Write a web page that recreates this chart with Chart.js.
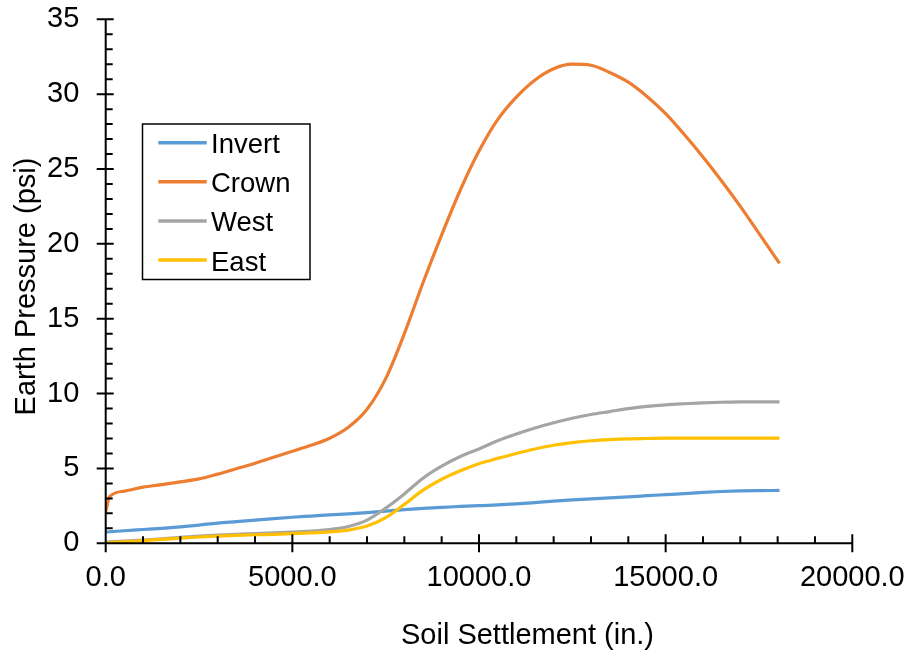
<!DOCTYPE html>
<html><head><meta charset="utf-8">
<script src="https://cdn.jsdelivr.net/npm/chart.js@4.4.0/dist/chart.umd.min.js"></script>
<style>html,body{margin:0;padding:0;background:#fff;}canvas{display:block;}</style>
</head><body>
<canvas id="c" width="909" height="655"></canvas>
<script>
// ---- data ----
const seriesNames = ['Invert', 'Crown', 'West', 'East'];
const settlement = [0, 100, 500, 1000, 1500, 2000, 2500, 3000, 3500, 4000, 4500, 5000, 5500, 6000, 6500, 7000, 7500, 8000, 8500, 9000, 9500, 10000, 10500, 11000, 11500, 12000, 12500, 13000, 13500, 14000, 14500, 15000, 15500, 16000, 16500, 17000, 17500, 18050];
const invert = [0.75, 0.77, 0.84, 0.92, 1.0, 1.1, 1.22, 1.35, 1.45, 1.55, 1.65, 1.74, 1.82, 1.9, 1.97, 2.05, 2.15, 2.25, 2.33, 2.4, 2.46, 2.52, 2.56, 2.63, 2.72, 2.82, 2.9, 2.97, 3.03, 3.1, 3.18, 3.25, 3.32, 3.4, 3.46, 3.5, 3.52, 3.53];
const crown = [2.1, 3.1, 3.48, 3.75, 3.92, 4.1, 4.3, 4.62, 4.98, 5.35, 5.75, 6.15, 6.55, 7.02, 7.75, 8.95, 11.0, 14.0, 17.4, 20.6, 23.6, 26.2, 28.3, 29.8, 30.95, 31.7, 32.0, 31.93, 31.45, 30.8, 29.85, 28.7, 27.3, 25.8, 24.2, 22.5, 20.7, 18.7];
const west = [0.05, 0.1, 0.15, 0.22, 0.3, 0.4, 0.48, 0.55, 0.6, 0.65, 0.7, 0.75, 0.82, 0.92, 1.12, 1.55, 2.35, 3.3, 4.35, 5.15, 5.8, 6.3, 6.85, 7.3, 7.7, 8.05, 8.35, 8.6, 8.8, 9.0, 9.15, 9.25, 9.32, 9.38, 9.42, 9.45, 9.45, 9.44];
const east = [0.0, 0.05, 0.1, 0.18, 0.26, 0.35, 0.42, 0.48, 0.53, 0.57, 0.6, 0.64, 0.7, 0.76, 0.88, 1.15, 1.72, 2.6, 3.55, 4.28, 4.85, 5.32, 5.67, 6.0, 6.3, 6.55, 6.72, 6.85, 6.93, 6.98, 7.0, 7.02, 7.02, 7.02, 7.02, 7.02, 7.02, 7.02];
const xMajorTicks = [0, 5000, 10000, 15000, 20000];
const xMinorTicks = [1000, 2000, 3000, 4000, 6000, 7000, 8000, 9000, 11000, 12000, 13000, 14000, 16000, 17000, 18000, 19000];
const yMajorTicks = [0, 5, 10, 15, 20, 25, 30, 35];
const yMinorTicks = [1,2,3,4,6,7,8,9,11,12,13,14,16,17,18,19,21,22,23,24,26,27,28,29,31,32,33,34];
const xTitle = 'Soil Settlement (in.)';
const yTitle = 'Earth Pressure (psi)';

const colors = ['#5B9BD5', '#ED7D31', '#A5A5A5', '#FFC000'];
const FONT = '"Liberation Sans", Arial, sans-serif';

const toPts = ys => settlement.map((s, i) => ({x: s, y: ys[i]}));
const values = [invert, crown, west, east];
const datasets = seriesNames.map((n, i) => ({
  label: n,
  data: toPts(values[i]),
  borderColor: colors[i],
  backgroundColor: colors[i],
  borderWidth: 3.2,
  pointRadius: 0,
  fill: false,
  cubicInterpolationMode: 'monotone',
  order: 3 - i
}));

const excelAxes = {
  id: 'excelAxes',
  afterDatasetsDraw(chart) {
    const {ctx, scales: {x, y}} = chart;
    const x0 = x.getPixelForValue(xMajorTicks[0]);
    const x1 = x.getPixelForValue(xMajorTicks[xMajorTicks.length - 1]);
    const y0 = y.getPixelForValue(yMajorTicks[0]);
    const y1 = y.getPixelForValue(yMajorTicks[yMajorTicks.length - 1]);
    ctx.save();
    ctx.strokeStyle = '#000';
    ctx.lineWidth = 2;
    ctx.lineCap = 'butt';
    ctx.beginPath();
    ctx.moveTo(x0, y1); ctx.lineTo(x0, y0);
    ctx.moveTo(x0 - 1, y0); ctx.lineTo(x1, y0);
    yMajorTicks.forEach(v => { const p = y.getPixelForValue(v); ctx.moveTo(x0 - 9, p); ctx.lineTo(x0 + 8, p); });
    yMinorTicks.forEach(v => { const p = y.getPixelForValue(v); ctx.moveTo(x0, p); ctx.lineTo(x0 + 7, p); });
    xMajorTicks.forEach(v => { const p = x.getPixelForValue(v); ctx.moveTo(p, y0 - 9); ctx.lineTo(p, y0 + 9); });
    xMinorTicks.forEach(v => { const p = x.getPixelForValue(v); ctx.moveTo(p, y0); ctx.lineTo(p, y0 - 7); });
    ctx.stroke();
    ctx.restore();
  },
  afterDraw(chart) {
    const {ctx} = chart;
    ctx.save();
    ctx.fillStyle = '#000';
    ctx.font = '29px ' + FONT;
    ctx.textAlign = 'center';
    ctx.textBaseline = 'alphabetic';
    ctx.fillText(xTitle, 527.5, 643.5);
    ctx.translate(35, 286.5);
    ctx.rotate(-Math.PI / 2);
    ctx.fillText(yTitle, 0, 0);
    ctx.restore();
    // legend
    ctx.save();
    const bx = 142.5, by = 124, bw = 167.5, bh = 155.5;
    ctx.fillStyle = '#fff';
    ctx.fillRect(bx, by, bw, bh);
    ctx.strokeStyle = '#000';
    ctx.lineWidth = 1.5;
    ctx.strokeRect(bx, by, bw, bh);
    ctx.font = '27.5px ' + FONT;
    ctx.textAlign = 'left';
    ctx.textBaseline = 'alphabetic';
    chart.data.datasets.forEach((ds, i) => {
      const ry = 142.7 + i * 39.1;
      ctx.strokeStyle = ds.borderColor;
      ctx.lineWidth = 3.5;
      ctx.beginPath();
      ctx.moveTo(158.3, ry); ctx.lineTo(206.7, ry);
      ctx.stroke();
      ctx.fillStyle = '#000';
      ctx.fillText(ds.label, 211, ry + 10.5);
    });
    ctx.restore();
  }
};

new Chart(document.getElementById('c'), {
  type: 'line',
  data: {datasets},
  plugins: [excelAxes],
  options: {
    responsive: false,
    devicePixelRatio: 1,
    animation: false,
    parsing: false,
    layout: {padding: {left: 0, top: 19.3, right: 56.7, bottom: 0}},
    plugins: {legend: {display: false}, tooltip: {enabled: false}},
    scales: {
      x: {
        type: 'linear', min: 0, max: 20000,
        afterBuildTicks: s => { s.ticks = xMajorTicks.map(v => ({value: v})); },
        grid: {display: false, drawTicks: false},
        border: {display: false},
        ticks: {
          padding: 17.5,
          color: '#000',
          maxRotation: 0,
          font: {family: FONT, size: 29},
          callback: v => Number(v).toFixed(1)
        },
        afterFit: s => { s.height = 655 - 543.3; s.paddingLeft = 0; s.paddingRight = 0; s.paddingTop = 0; s.paddingBottom = 0; }
      },
      y: {
        type: 'linear', min: 0, max: 35,
        afterBuildTicks: s => { s.ticks = yMajorTicks.map(v => ({value: v})); },
        grid: {display: false, drawTicks: false},
        border: {display: false},
        ticks: {
          padding: 26.4,
          color: '#000',
          font: {family: FONT, size: 29},
          callback: v => String(v)
        },
        afterFit: s => { s.width = 105.7; s.paddingLeft = 0; s.paddingRight = 0; s.paddingTop = 0; s.paddingBottom = 0; }
      }
    }
  }
});
</script>
</body></html>
